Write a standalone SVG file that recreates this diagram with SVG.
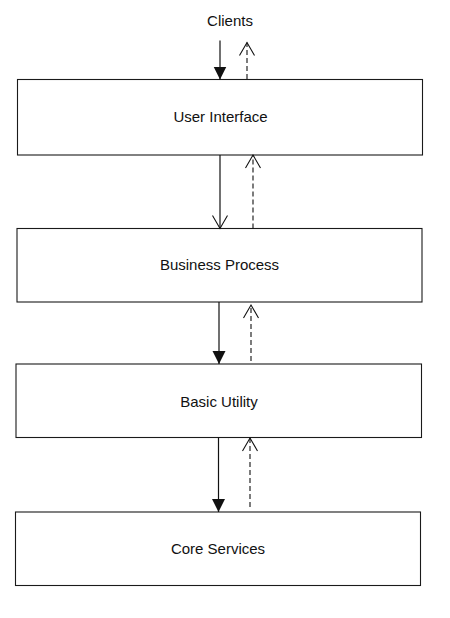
<svg xmlns="http://www.w3.org/2000/svg" width="450" height="618" viewBox="0 0 450 618">
  <style>
    .box { fill: #ffffff; stroke: #1a1a1a; stroke-width: 1.1; }
    .label { font-family: "Liberation Sans", Arial, sans-serif; font-size: 15px; fill: #111111; text-anchor: middle; }
    .solid { stroke: #111111; stroke-width: 1.2; fill: none; }
    .dashed { stroke: #111111; stroke-width: 1.1; fill: none; stroke-dasharray: 5 3; }
  </style>
  <defs>
    <marker id="filled" markerUnits="userSpaceOnUse" markerWidth="14" markerHeight="14" viewBox="0 0 14 14" refX="13" refY="7" orient="auto">
      <path d="M0,0.5 L13,7 L0,13.5 Z" fill="#111111"/>
    </marker>
    <marker id="open" markerUnits="userSpaceOnUse" markerWidth="16" markerHeight="18" viewBox="0 0 16 18" refX="14" refY="9" orient="auto">
      <path d="M1,1.5 L14,9 L1,16.5" fill="none" stroke="#111111" stroke-width="1.1"/>
    </marker>
  </defs>
  <rect width="450" height="618" fill="#ffffff"/>

  <g id="clients">
    <text class="label" x="230" y="25.5">Clients</text>
  </g>

  <g id="user-interface">
    <rect class="box" x="17.5" y="79.5" width="405" height="75.5"/>
    <text class="label" x="220.5" y="122">User Interface</text>
  </g>

  <g id="business-process">
    <rect class="box" x="17" y="228.5" width="405" height="73.5"/>
    <text class="label" x="219.5" y="269.5">Business Process</text>
  </g>

  <g id="basic-utility">
    <rect class="box" x="16" y="364" width="405.5" height="73.5"/>
    <text class="label" x="219" y="406.5">Basic Utility</text>
  </g>

  <g id="core-services">
    <rect class="box" x="15.5" y="512" width="405" height="73.5"/>
    <text class="label" x="218" y="553.5">Core Services</text>
  </g>

  <g id="connectors">
    <line class="solid" x1="220" y1="40.5" x2="220" y2="79.5" marker-end="url(#filled)"/>
    <line class="dashed" x1="247" y1="79" x2="247" y2="42.5" marker-end="url(#open)"/>

    <line class="solid" x1="220" y1="155" x2="220" y2="228.5" marker-end="url(#open)"/>
    <line class="dashed" x1="253" y1="228.5" x2="253" y2="155" marker-end="url(#open)"/>

    <line class="solid" x1="219" y1="302" x2="219" y2="364" marker-end="url(#filled)"/>
    <line class="dashed" x1="251" y1="361" x2="251" y2="305" marker-end="url(#open)"/>

    <line class="solid" x1="218.5" y1="437.5" x2="218.5" y2="512" marker-end="url(#filled)"/>
    <line class="dashed" x1="250" y1="507" x2="250" y2="438" marker-end="url(#open)"/>
  </g>
</svg>
